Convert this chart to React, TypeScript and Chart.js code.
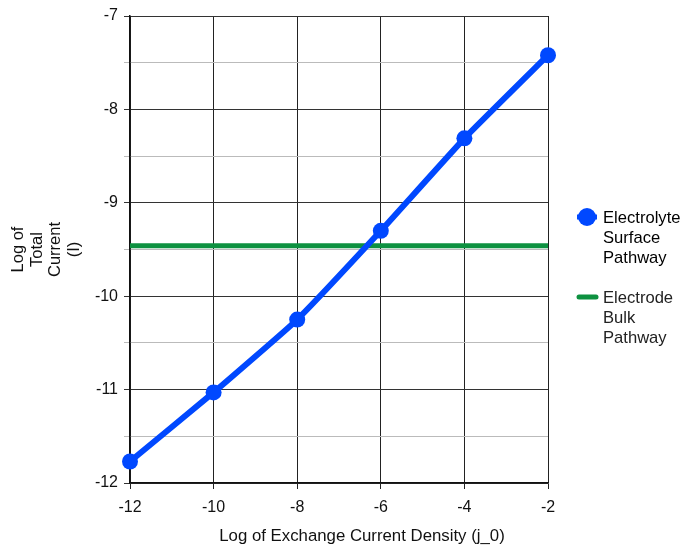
import React, { useEffect, useRef } from "react";
import { Chart, registerables } from "chart.js";

Chart.register(...registerables);

const xValues = [-12, -10, -8, -6, -4, -2];
const surfaceValues = [-11.77, -11.03, -10.25, -9.3, -8.31, -7.42];
const bulkX = [-12, -2];
const bulkValues = [-9.46, -9.46];
const yTitleLines = ["Log of", "Total", "Current", "(I)"];
const xTitle = "Log of Exchange Current Density (j_0)";
const legendSurface = ["Electrolyte", "Surface", "Pathway"];
const legendBulk = ["Electrode", "Bulk", "Pathway"];

const BLUE = "#0048ff";
const GREEN = "#0d9140";
const FONT = "'Liberation Sans', Arial, sans-serif";

export default function App() {
  const ref = useRef<HTMLCanvasElement | null>(null);
  useEffect(() => {
    if (!ref.current) return;
    const decor = {
      id: "decor",
      afterDraw(chart: any) {
        const ctx = chart.ctx as CanvasRenderingContext2D;
        ctx.save();
        ctx.font = `16.8px ${FONT}`;
        ctx.fillStyle = "#111";
        ctx.textAlign = "center";
        ctx.textBaseline = "middle";
        ctx.fillText(xTitle, 362, 536);
        // legend
        ctx.font = `16.6px ${FONT}`;
        ctx.textAlign = "left";
        ctx.strokeStyle = BLUE;
        ctx.lineWidth = 5;
        ctx.beginPath();
        ctx.moveTo(577, 217);
        ctx.lineTo(597, 217);
        ctx.stroke();
        ctx.fillStyle = BLUE;
        ctx.beginPath();
        ctx.arc(587, 217, 9, 0, Math.PI * 2);
        ctx.fill();
        ctx.fillStyle = "#000";
        legendSurface.forEach((t, i) => ctx.fillText(t, 603, 218 + i * 20));
        ctx.strokeStyle = GREEN;
        ctx.lineWidth = 5;
        ctx.lineCap = "round";
        ctx.beginPath();
        ctx.moveTo(579, 297);
        ctx.lineTo(596, 297);
        ctx.stroke();
        ctx.fillStyle = "#222";
        legendBulk.forEach((t, i) => ctx.fillText(t, 603, 298 + i * 20));
        ctx.restore();
      },
    };
    const chart = new Chart(ref.current, {
      type: "line",
      data: {
        datasets: [
          {
            label: "Electrode Bulk Pathway",
            data: bulkX.map((x, i) => ({ x, y: bulkValues[i] })),
            borderColor: GREEN,
            backgroundColor: GREEN,
            borderWidth: 5,
            pointRadius: 0,
            clip: false,
            order: 2,
          },
          {
            label: "Electrolyte Surface Pathway",
            data: xValues.map((x, i) => ({ x, y: surfaceValues[i] })),
            borderColor: BLUE,
            backgroundColor: BLUE,
            borderWidth: 6,
            pointRadius: 8,
            pointBorderWidth: 0,
            tension: 0.12,
            clip: false,
            order: 1,
          },
        ],
      },
      options: {
        animation: false,
        responsive: false,
        layout: { padding: { top: 16, right: 136, left: 0, bottom: 0 } },
        plugins: { legend: { display: false }, tooltip: { enabled: false } },
        scales: {
          x: {
            type: "linear",
            min: -12,
            max: -2,
            ticks: {
              stepSize: 2,
              color: "#111",
              font: { family: FONT, size: 16 },
              padding: 9,
            },
            grid: { color: "#222", lineWidth: 1, tickLength: 6, tickColor: "#222" },
            border: { color: "#111", width: 1.5 },
            afterFit(s: any) {
              s.height = 65;
            },
          },
          y: {
            type: "linear",
            min: -12,
            max: -7,
            ticks: {
              stepSize: 0.5,
              color: "#111",
              font: { family: FONT, size: 16 },
              padding: 6,
              callback: (v: any) => (Number.isInteger(v) ? String(v) : ""),
            },
            grid: {
              color: (c: any) => (Number.isInteger(c.tick?.value) ? "#333" : "#bbb"),
              tickColor: (c: any) => (Number.isInteger(c.tick?.value) ? "#333" : "#bbb"),
              lineWidth: 1,
              tickLength: 6,
            },
            border: { color: "#111", width: 1.5 },
            title: {
              display: true,
              text: yTitleLines,
              color: "#111",
              font: { family: FONT, size: 16.5, lineHeight: 1.13 },
              padding: { top: 9, bottom: 0 },
            },
            afterFit(s: any) {
              s.width = 130;
            },
          },
        },
      },
      plugins: [decor],
    } as any);
    return () => chart.destroy();
  }, []);
  return (
    <div style={{ position: "absolute", left: 0, top: 0, width: 684, height: 548, background: "#fff" }}>
      <canvas ref={ref} width={684} height={548} style={{ width: 684, height: 548 }} />
    </div>
  );
}
